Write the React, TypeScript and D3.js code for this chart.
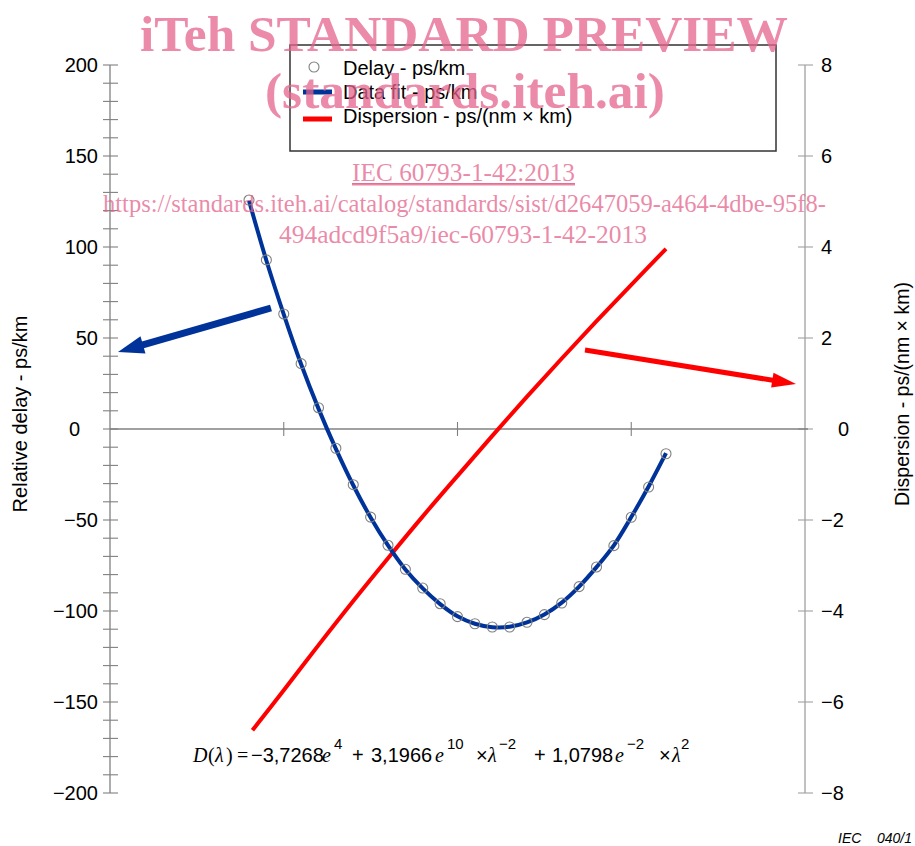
import React from "react";
import * as d3 from "d3";

// ---- Data ----
const wavelengths = [1240, 1245, 1250, 1255, 1260, 1265, 1270, 1275, 1280, 1285, 1290, 1295, 1300, 1305, 1310, 1315, 1320, 1325, 1330, 1335, 1340, 1345, 1350, 1355, 1360];
const delayValues = [125.8, 92.9, 63.2, 35.9, 11.7, -10.6, -30.6, -48.4, -63.9, -77.1, -87.4, -96.0, -103.1, -107.0, -108.8, -108.8, -106.2, -102.0, -95.6, -86.6, -75.8, -64.1, -48.5, -31.9, -13.6];
const fitValues = [125.5, 92.6, 63.0, 35.6, 11.2, -10.9, -30.9, -48.6, -64.0, -77.2, -87.6, -96.2, -102.9, -107.0, -108.9, -108.7, -106.3, -101.9, -95.4, -86.6, -75.9, -63.9, -48.4, -31.6, -13.3];
const dispLambda = [1241, 1250, 1260, 1270, 1280, 1290, 1300, 1310, 1320, 1330, 1340, 1350, 1360];
const dispValues = [-6.62, -5.74, -4.75, -3.78, -2.84, -1.92, -1.03, -0.15, 0.71, 1.55, 2.37, 3.17, 3.96];
const leftTicks = [-200, -150, -100, -50, 0, 50, 100, 150, 200];
const rightTicks = [-8, -6, -4, -2, 0, 2, 4, 6, 8];
const xTicks = [1250, 1300, 1350];
const legendLabels = ["Delay - ps/km", "Data fit - ps/km", "Dispersion - ps/(nm \u00d7 km)"];

const FONT = "'Liberation Sans', Arial, sans-serif";
const SERIF = "'Liberation Serif', 'Times New Roman', serif";
const AXIS = "#808080";
const BLUE = "#003399";
const RED = "#ff0000";
const PINK = "rgb(228,100,140)";

function Arrow({ x1, y1, x2, y2, color, w, hl, hw }: any) {
  const dx = x2 - x1, dy = y2 - y1;
  const L = Math.hypot(dx, dy);
  const ux = dx / L, uy = dy / L;
  const px = -uy, py = ux;
  const bx = x2 - ux * hl, by = y2 - uy * hl;
  const pts = [
    [x2, y2],
    [bx + px * hw / 2, by + py * hw / 2],
    [bx - px * hw / 2, by - py * hw / 2],
  ];
  return (
    <g>
      <line x1={x1} y1={y1} x2={bx + ux * 2} y2={by + uy * 2} stroke={color} strokeWidth={w} />
      <polygon points={pts.map((p) => p.join(",")).join(" ")} fill={color} />
    </g>
  );
}

export default function App() {
  const x = d3.scaleLinear().domain([1200, 1400]).range([110, 805]);
  const yL = d3.scaleLinear().domain([-200, 200]).range([793, 65]);
  const yR = d3.scaleLinear().domain([-8, 8]).range([793, 65]);
  const minor = d3.range(-200, 201, 10);

  const fitLine = d3
    .line<number>()
    .x((_, i) => x(wavelengths[i]))
    .y((v) => yL(v))
    .curve(d3.curveCatmullRom)(fitValues) as string;
  const dispLine = d3
    .line<number>()
    .x((_, i) => x(dispLambda[i]))
    .y((v) => yR(v))
    .curve(d3.curveCatmullRom)(dispValues) as string;

  const fmt = (v: number) => (v < 0 ? "\u2212" + Math.abs(v) : String(v));

  return (
    <svg
      width={915}
      height={846}
      style={{ position: "absolute", left: 0, top: 0, background: "#fff" }}
      fontFamily={FONT}
    >
      <rect x={0} y={0} width={915} height={846} fill="#fff" />
      {/* left axis */}
      <line x1={110} x2={110} y1={yL(200)} y2={yL(-200)} stroke={AXIS} strokeWidth={1.3} />
      {minor.map((v) => (
        <line key={"m" + v} x1={103} x2={118} y1={yL(v)} y2={yL(v)} stroke={AXIS} strokeWidth={1.1} />
      ))}
      {leftTicks.map((v) => (
        <text
          key={"l" + v}
          x={v === 0 ? 80 : 98}
          y={yL(v)}
          dy="0.36em"
          textAnchor="end"
          fontSize={20}
          fill="#000"
        >
          {fmt(v)}
        </text>
      ))}
      {/* right axis */}
      <line x1={805} x2={805} y1={yR(8)} y2={yR(-8)} stroke="#a0a0a0" strokeWidth={1.3} />
      {rightTicks.map((v) => (
        <g key={"r" + v}>
          <line x1={798} x2={813} y1={yR(v)} y2={yR(v)} stroke="#a0a0a0" strokeWidth={1.1} />
          <text x={v === 0 ? 838 : 821} y={yR(v)} dy="0.36em" fontSize={20} fill="#000">
            {fmt(v)}
          </text>
        </g>
      ))}
      {/* zero line */}
      <line x1={110} x2={808} y1={yL(0)} y2={yL(0)} stroke={AXIS} strokeWidth={1.3} />
      {xTicks.map((t) => (
        <line key={"x" + t} x1={x(t)} x2={x(t)} y1={yL(0) - 7} y2={yL(0) + 7} stroke={AXIS} strokeWidth={1.1} />
      ))}
      {/* axis titles */}
      <text transform="translate(27,414) rotate(-90)" textAnchor="middle" fontSize={20}>
        Relative delay - ps/km
      </text>
      <text transform="translate(909,394) rotate(-90)" textAnchor="middle" fontSize={19.5}>
        Dispersion - ps/(nm {"\u00d7"} km)
      </text>

      {/* series */}
      <path d={dispLine} fill="none" stroke={RED} strokeWidth={4} />
      <path d={fitLine} fill="none" stroke={BLUE} strokeWidth={4} />
      {wavelengths.map((w, i) => (
        <circle key={"p" + w} cx={x(w)} cy={yL(delayValues[i])} r={5} fill="none" stroke="#808080" strokeWidth={1.1} />
      ))}

      {/* arrows */}
      <Arrow x1={271} y1={308} x2={118} y2={352} color={BLUE} w={7} hl={26} hw={18} />
      <Arrow x1={585} y1={350} x2={796} y2={384} color={RED} w={5} hl={24} hw={15} />

      {/* legend */}
      <rect x={290} y={45} width={486} height={106} fill="#fff" stroke="#333" strokeWidth={1.5} />
      <circle cx={314} cy={67} r={5} fill="none" stroke="#808080" strokeWidth={1.1} />
      <text x={343} y={75} fontSize={20}>{legendLabels[0]}</text>
      <line x1={303} x2={332} y1={92} y2={92} stroke={BLUE} strokeWidth={5} />
      <text x={343} y={99} fontSize={20}>{legendLabels[1]}</text>
      <line x1={303} x2={332} y1={119} y2={119} stroke={RED} strokeWidth={5} />
      <text x={343} y={123} fontSize={20}>{legendLabels[2]}</text>

      {/* formula */}
      <g fontSize={20}>
        <text x={193} y={762} fontFamily={SERIF} fontStyle="italic">D</text>
        <text x={208} y={762} fontFamily={SERIF}>(</text>
        <text x={215} y={762} fontFamily={SERIF} fontStyle="italic">{"\u03bb"}</text>
        <text x={226} y={762} fontFamily={SERIF}>)</text>
        <text x={237} y={762} fontFamily={SERIF}>=</text>
        <text x={251} y={762}>{"\u22123,7268"}</text>
        <text x={322} y={762} fontFamily={SERIF} fontStyle="italic">e</text>
        <text x={334} y={749} fontSize={15}>4</text>
        <text x={352} y={762}>+</text>
        <text x={371} y={762}>3,1966</text>
        <text x={435} y={762} fontFamily={SERIF} fontStyle="italic">e</text>
        <text x={447} y={749} fontSize={15}>10</text>
        <text x={476} y={762}>{"\u00d7"}</text>
        <text x={488} y={762} fontFamily={SERIF} fontStyle="italic">{"\u03bb"}</text>
        <text x={499} y={749} fontSize={15}>{"\u22122"}</text>
        <text x={534} y={762}>+</text>
        <text x={552} y={762}>1,0798</text>
        <text x={615} y={762} fontFamily={SERIF} fontStyle="italic">e</text>
        <text x={627} y={749} fontSize={15}>{"\u22122"}</text>
        <text x={659} y={762}>{"\u00d7"}</text>
        <text x={672} y={762} fontFamily={SERIF} fontStyle="italic">{"\u03bb"}</text>
        <text x={681} y={749} fontSize={15}>2</text>
      </g>

      <text x={838} y={843} fontSize={14} fontStyle="italic">IEC</text>
      <text x={877} y={843} fontSize={14} fontStyle="italic">040/1</text>

      {/* watermark */}
      <g fill={PINK} fillOpacity={0.75} fontFamily={SERIF}>
        <text x={140} y={51} fontSize={50} fontWeight="bold" textLength={648} lengthAdjust="spacingAndGlyphs">
          iTeh STANDARD PREVIEW
        </text>
        <text x={265} y={108} fontSize={50} fontWeight="bold" textLength={400} lengthAdjust="spacingAndGlyphs">
          (standards.iteh.ai)
        </text>
        <text x={352} y={181} fontSize={25} textLength={223} lengthAdjust="spacingAndGlyphs" textDecoration="underline">
          IEC 60793-1-42:2013
        </text>
        <rect x={352} y={183} width={223} height={1.2} />
        <text x={103} y={212} fontSize={25} textLength={723} lengthAdjust="spacingAndGlyphs">
          https://standards.iteh.ai/catalog/standards/sist/d2647059-a464-4dbe-95f8-
        </text>
        <text x={279} y={243} fontSize={25} textLength={368} lengthAdjust="spacingAndGlyphs">
          494adcd9f5a9/iec-60793-1-42-2013
        </text>
      </g>
    </svg>
  );
}
